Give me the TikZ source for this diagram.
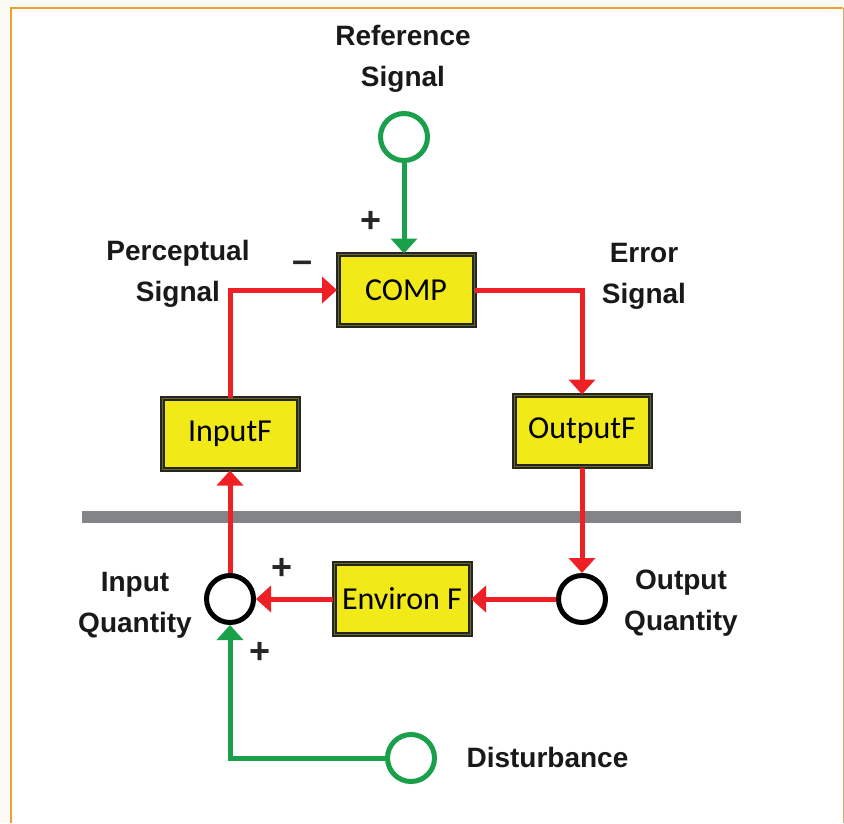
\documentclass[tikz,border=0pt]{standalone}
\usepackage{fontspec}
\usetikzlibrary{arrows.meta, positioning}
\newfontfamily\labelfont{Liberation Sans}
\newfontfamily\boxfont{Carlito}
\definecolor{frameColor}{HTML}{E9A22C}
\definecolor{frameEdge}{HTML}{D8AA68}
\definecolor{pageBg}{HTML}{FBFAF4}
\definecolor{blockFill}{HTML}{F2EA18}
\definecolor{blockEdge}{HTML}{262620}
\definecolor{blockMid}{HTML}{6E6A22}
\definecolor{loopRed}{HTML}{EE2026}
\definecolor{sigGreen}{HTML}{1A9F4A}
\definecolor{barGray}{HTML}{838487}

\begin{document}
\begin{tikzpicture}[
    x=1pt, y=-1pt,
    % Box Styles
    block/.style={
        draw=blockEdge,
        line width=2pt,
        double=blockMid,
        double distance=1pt,
        fill=blockFill,
        minimum width=136pt,
        minimum height=71pt,
        inner sep=0pt,
        font=\boxfont\fontsize{32}{36}\selectfont
    },
    qty/.style={
        circle,
        draw=black,
        line width=5pt,
        minimum size=47pt,
        inner sep=0pt
    },
    source/.style={
        qty,
        draw=sigGreen
    },
    % Line Styles
    loopLine/.style={
        draw=loopRed,
        line width=5pt,
        -{Triangle[width=26pt 0 0,length=15pt 0 0]}
    },
    sigLine/.style={
        loopLine,
        draw=sigGreen
    },
    % Text Styles
    lbl/.style={
        font=\labelfont\bfseries\fontsize{28}{41}\selectfont,
        align=center,
        text=black!90
    },
    sign/.style={
        font=\labelfont\bfseries\fontsize{36}{36}\selectfont,
        text=black!85,
        inner sep=0pt
    }
]
    \useasboundingbox (0,0) rectangle (844,823);

    % --- FRAME ---
    \fill[pageBg] (0,0) rectangle (844,823);
    \fill[white] (11,8) rectangle (843,823);
    \draw[frameColor, line width=2.5pt] (11,823) -- (11,8) -- (843,8);
    \draw[frameEdge, line width=1pt] (843,8) -- (843,823);

    % --- SYSTEM / ENVIRONMENT BOUNDARY ---
    \draw[barGray, line width=12pt] (82,517) -- (741,517);

    % --- CONTROL SYSTEM ---
    \node[source] (ref) at (404,137) {};
    \node[lbl] (refLbl) at (403,59) {Reference\\Signal};

    \node[block] (comp) at (406,290) {COMP};
    \node[block] (inF) at (230,434) {InputF};
    \node[block] (outF) at (582,431) {OutputF};

    \node[lbl] (percLbl) at (178,274) {Perceptual\\Signal};
    \node[lbl] (errLbl) at (644,276) {Error\\Signal};

    \node[sign] (refPlus) at (371,222) {+};
    \node[sign] (percMinus) at (303,267) {–};

    % --- ENVIRONMENT ---
    \node[qty] (inQ) at (230,599) {};
    \node[qty] (outQ) at (582,599) {};
    \node[block] (envF) at (402,599) {Environ F};
    \node[source] (dist) at (411,758) {};

    \node[lbl] (inLbl) at (135,605) {Input\\Quantity};
    \node[lbl] (outLbl) at (681,603) {Output\\Quantity};
    \node[lbl, anchor=west] (distLbl) at (463,757) {Disturbance};

    \node[sign] (envPlus) at (282,569) {+};
    \node[sign] (distPlus) at (260,653) {+};

    % --- CONNECTIONS ---
    \draw[sigLine] (ref) -- (ref |- comp.north);
    \draw[loopLine] (comp) -| (outF);
    \draw[loopLine] (outF) -- (outQ);
    \draw[loopLine] (outQ) -- (envF);
    \draw[loopLine] (envF) -- (inQ);
    \draw[loopLine] (inQ) -- (inF);
    \draw[loopLine] (inF) |- (comp);
    \draw[sigLine] (dist) -| (inQ);

\end{tikzpicture}
\end{document}
